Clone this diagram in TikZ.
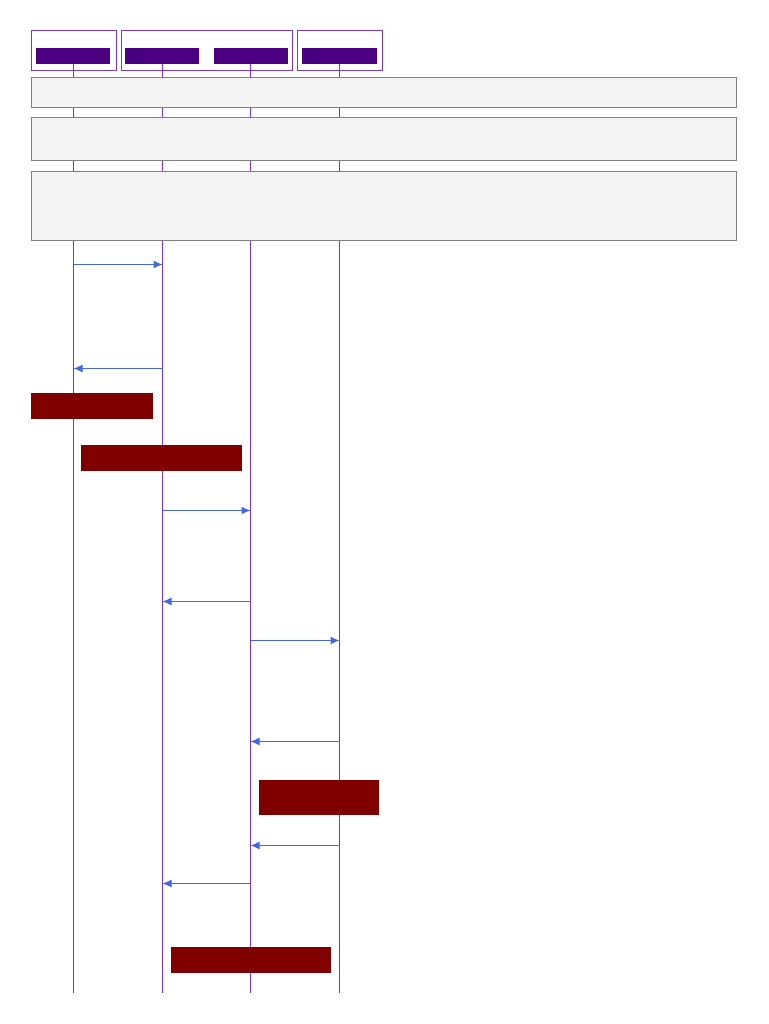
\documentclass[tikz,border=0pt]{standalone}
\usetikzlibrary{arrows.meta}
\definecolor{lifepurple}{HTML}{7B35C0}
\definecolor{headfill}{HTML}{4B0082}
\definecolor{notegrey}{HTML}{F4F4F4}
\definecolor{noteedge}{HTML}{808080}
\definecolor{msgblue}{HTML}{4169E1}
\definecolor{actred}{HTML}{800000}
\tikzset{
  grp/.style={draw=lifepurple, line width=1pt},
  head/.style={fill=headfill, draw=none},
  lifeline/.style={draw=lifepurple, line width=1pt},
  notebox/.style={fill=notegrey, draw=noteedge, line width=1pt},
  msg/.style={draw=msgblue, line width=1pt, -{Latex[length=9pt,width=8pt]}},
  actbox/.style={fill=actred, draw=none},
}
\begin{document}
\begin{tikzpicture}[x=1pt,y=-1pt]
\useasboundingbox (0,0) rectangle (768,1024);
% lifeline coordinates
\foreach \n/\x in {A/73.5,B/162.5,C/250.5,D/339.5}{
  \coordinate (\n top) at (\x,64);
  \coordinate (\n bot) at (\x,993);
}
\draw[lifeline] (Atop) -- (Abot);
\draw[lifeline] (Btop) -- (Bbot);
\draw[lifeline] (Ctop) -- (Cbot);
\draw[lifeline] (Dtop) -- (Dbot);
% group boxes
\draw[grp] (31.5,30.5) rectangle (116.5,70.5);
\draw[grp] (121.5,30.5) rectangle (292.5,70.5);
\draw[grp] (297.5,30.5) rectangle (382.5,70.5);
% participant heads
\fill[head] (36,48) rectangle (110,64);
\fill[head] (125,48) rectangle (199,64);
\fill[head] (214,48) rectangle (288,64);
\fill[head] (302,48) rectangle (377,64);
% notes
\draw[notebox] (31.5,77.5) rectangle (736.5,107.5);
\draw[notebox] (31.5,117.5) rectangle (736.5,160.5);
\draw[notebox] (31.5,171.5) rectangle (736.5,240.5);
% messages
\foreach \n/\y/\a/\b in {m1/264.5/73.5/162.5, m2/368.5/162.5/73.5, m3/510.5/162.5/250.5, m4/601.5/250.5/162.5,
  m5/640.5/250.5/339.5, m6/741.5/339.5/250.5, m7/845.5/339.5/250.5, m8/883.5/250.5/162.5}{
  \coordinate (\n s) at (\a,\y);
  \coordinate (\n e) at (\b,\y);
}
\draw[msg] (m1s) -- (m1e);
\draw[msg] (m2s) -- (m2e);
\draw[msg] (m3s) -- (m3e);
\draw[msg] (m4s) -- (m4e);
\draw[msg] (m5s) -- (m5e);
\draw[msg] (m6s) -- (m6e);
\draw[msg] (m7s) -- (m7e);
\draw[msg] (m8s) -- (m8e);
% activation boxes
\fill[actbox] (31,393) rectangle (153,419);
\fill[actbox] (81,445) rectangle (242,471);
\fill[actbox] (259,780) rectangle (379,815);
\fill[actbox] (171,947) rectangle (331,973);
\end{tikzpicture}
\end{document}
